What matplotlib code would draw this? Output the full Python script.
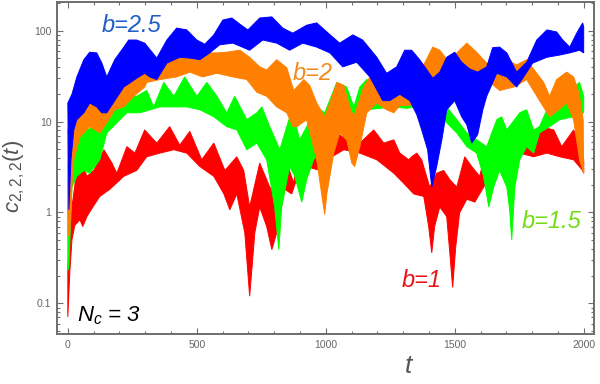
import numpy as np
import matplotlib
matplotlib.use("Agg")
import matplotlib.pyplot as plt
from matplotlib.ticker import LogLocator, MultipleLocator, NullFormatter

# envelopes (upper / lower) of the fast oscillation
t_blue_hi = [0, 16, 35, 62, 85, 112, 132, 151, 182, 217, 236, 267, 298, 345, 384, 422, 461, 500, 531, 566,
             601, 636, 667, 698, 744, 791, 833, 872, 926, 965, 1004, 1054, 1105, 1143, 1198, 1236, 1275, 1306,
             1333, 1364, 1384, 1415, 1442, 1469, 1500, 1527, 1558, 1589, 1624, 1647, 1674, 1702, 1740, 1779,
             1818, 1857, 1895, 1919, 1946, 1973, 1996, 2000]
blue_hi = [16, 20, 31, 48, 58, 57, 44, 31, 48, 66, 79, 79, 73, 50, 79, 107, 102, 79, 71, 90,
           131, 138, 118, 102, 138, 142, 107, 94, 115, 122, 97, 73, 90, 79, 51, 34, 40, 61,
           61, 48, 40, 30, 35, 51, 58, 45, 38, 35, 40, 65, 66, 57, 35, 45,
           79, 102, 97, 79, 66, 94, 122, 110]
t_blue_lo = [0, 4, 12, 23, 35, 62, 85, 112, 132, 151, 182, 217, 267, 298, 318, 345, 384, 434, 473, 512,
             550, 589, 640, 705, 756, 810, 860, 911, 965, 1016, 1066, 1120, 1171, 1221, 1248, 1287, 1326,
             1353, 1372, 1395, 1411, 1430, 1450, 1469, 1500, 1527, 1547, 1566, 1589, 1609, 1624, 1663,
             1702, 1740, 1764, 1802, 1857, 1907, 1946, 1984, 2000]
blue_lo = [16, 1.07, 3.8, 8.1, 10.5, 12.5, 16, 14.5, 12.5, 12.5, 17, 24, 30, 34, 31, 29, 44, 51, 50, 48,
           57, 70, 73, 61, 79, 73, 61, 73, 66, 57, 40, 45, 31, 17, 17, 20, 17,
           11.9, 8.1, 4.9, 1.9, 3.2, 6.3, 13.5, 17, 11.3, 9.2, 5.8, 7.2, 13.5, 19, 34,
           31, 24, 30, 44, 51, 54, 57, 61, 57]

t_orange_hi = [0, 23, 35, 58, 85, 124, 151, 182, 217, 256, 298, 345, 384, 422, 461, 500, 539, 578, 616, 667,
               705, 744, 771, 810, 849, 876, 915, 938, 965, 996, 1016, 1043, 1070, 1093, 1109, 1147, 1171,
               1198, 1225, 1264, 1302, 1333, 1376, 1415, 1442, 1481, 1508, 1547, 1585, 1624, 1663, 1702,
               1740, 1779, 1818, 1845, 1868, 1895, 1934, 1961, 1981, 1998, 2000]
orange_hi = [8.1, 13.5, 19, 24, 24, 21, 29, 40, 44, 57, 73, 44, 51, 58, 61, 51, 57, 57, 58, 61,
             51, 40, 37, 48, 39, 22, 29, 25, 16, 11.3, 16, 27, 25, 14.5, 11.3, 24, 31,
             27, 24, 27, 24, 27, 40, 66, 61, 44, 57, 73, 58, 44, 33, 48,
             42, 48, 34, 27, 19, 29, 35, 31, 21, 10.5, 2.7]
t_orange_lo = [0, 2, 8, 16, 23, 47, 85, 124, 151, 182, 217, 256, 298, 306, 357, 422, 473, 523, 578, 640,
               694, 733, 771, 810, 849, 872, 888, 926, 965, 984, 996, 1004, 1031, 1054, 1081, 1101, 1112,
               1132, 1159, 1198, 1236, 1264, 1287, 1326, 1376, 1442, 1508, 1570, 1624, 1674, 1729, 1779,
               1829, 1868, 1903, 1934, 1961, 1984, 2000]
orange_lo = [1.0, 0.55, 0.6, 2.0, 3.8, 6.8, 8.8, 7.5, 9.7, 13.5, 14.5, 19, 24, 27, 29, 31, 35, 31, 34, 31,
             29, 21, 19, 14.5, 12.5, 8.8, 8.8, 10.5, 3.8, 1.6, 0.95, 1.6, 4.5, 7.5, 6.3, 3.5, 3.2,
             5.3, 12.5, 16, 13.5, 12.5, 15, 15, 27, 34, 35, 37, 29, 22, 24, 29,
             17, 11.3, 13.5, 16, 10.5, 3.8, 2.7]

t_green_hi = [0, 23, 35, 54, 81, 105, 140, 171, 202, 229, 267, 306, 333, 372, 411, 453, 500, 539, 578, 616,
              647, 694, 733, 752, 783, 822, 857, 876, 899, 934, 965, 996, 1043, 1081, 1109, 1132, 1159,
              1209, 1264, 1314, 1353, 1391, 1430, 1469, 1508, 1547, 1585, 1624, 1663, 1682, 1702, 1752,
              1779, 1806, 1829, 1857, 1895, 1934, 1961, 1984, 2000]
green_hi = [3.5, 6.8, 8.1, 9.7, 8.1, 9.7, 12.5, 13.5, 14.5, 19, 19, 22, 14.5, 27, 19, 31, 19, 27, 19, 12.5,
            19, 10.5, 12.5, 14.5, 8.8, 4.9, 10.5, 11.3, 6.3, 9.7, 14.5, 12.5, 27, 24, 14.5, 24, 29,
            24, 21, 21, 25, 21, 19, 14.5, 10.5, 7.5, 6.3, 5.3, 10.5, 11.3, 8.1, 12.5,
            13.5, 8.1, 8.8, 13.5, 17, 16, 24, 27, 19]
t_green_lo = [0, 4, 16, 35, 62, 85, 124, 151, 190, 229, 279, 357, 411, 461, 512, 566, 616, 655, 694, 733,
              771, 802, 818, 829, 860, 880, 907, 926, 953, 992, 1016, 1043, 1081, 1109, 1159, 1209, 1264,
              1314, 1353, 1403, 1457, 1508, 1547, 1585, 1612, 1632, 1651, 1674, 1702, 1713, 1721, 1733,
              1752, 1779, 1806, 1829, 1868, 1907, 1961, 2000]
green_lo = [0.23, 0.25, 1.9, 2.5, 2.9, 2.7, 3.8, 7.5, 9.7, 12.5, 12.5, 14.5, 14.5, 14.5, 13.5, 11.3, 8.8, 8.1, 4.9, 5.8,
            3.8, 1.15, 0.39, 1.15, 3.2, 2.5, 1.3, 2.3, 3.8, 5.3, 10, 12.5, 11.3, 10.5, 13.5, 14, 14.5,
            14, 14.5, 13.5, 10.5, 7.5, 5.3, 4.5, 2.5, 1.15, 1.9, 2.9, 1.9, 1.07, 0.5, 1.9,
            3.8, 5.3, 4.5, 7.5, 8.8, 10.5, 11.3, 12.5]

t_red_hi = [0, 16, 35, 54, 74, 101, 140, 171, 190, 229, 260, 298, 345, 395, 434, 473, 519, 566, 609, 655,
            682, 705, 744, 783, 810, 849, 876, 899, 926, 953, 977, 1004, 1043, 1081, 1132, 1186, 1225,
            1264, 1287, 1322, 1333, 1353, 1372, 1403, 1430, 1457, 1481, 1508, 1539, 1566, 1597, 1624,
            1651, 1674, 1702, 1729, 1752, 1791, 1829, 1884, 1915, 1961, 1984, 2000]
red_hi = [0.25, 1.15, 2.9, 3.5, 2.5, 2.9, 4.9, 3.5, 2.7, 5.3, 4.5, 8.1, 5.8, 8.8, 5.5, 7.8, 3.8, 5.8, 2.9, 4.1,
          2.9, 1.15, 3.5, 1.9, 1.5, 3.5, 2.1, 6.3, 5.8, 6.8, 4.5, 5.3, 7.5, 6.3, 5.8, 8.1, 5.8,
          6.3, 4.5, 3.8, 4.1, 4.5, 3.8, 1.9, 2.7, 2.9, 2.3, 1.9, 4.1, 3.2, 2.5, 5.3,
          3.2, 3.5, 8.1, 7.5, 5.3, 6.8, 8.8, 8.1, 5.3, 8.1, 5.3, 3.8]
t_red_lo = [0, 8, 16, 27, 47, 58, 74, 97, 124, 163, 217, 267, 306, 357, 411, 461, 512, 566, 605, 628,
            655, 686, 705, 725, 744, 771, 791, 810, 841, 868, 895, 926, 977, 1004, 1070, 1132, 1198,
            1264, 1302, 1341, 1380, 1399, 1411, 1422, 1442, 1469, 1481, 1492, 1504, 1519, 1547, 1578,
            1612, 1651, 1702, 1752, 1806, 1857, 1907, 1961, 1996, 2000]
red_lo = [0.071, 0.23, 0.5, 0.72, 0.83, 0.7, 0.9, 1.15, 1.5, 1.8, 2.5, 2.9, 4.1, 4.5, 4.9, 4.5, 3.2, 2.5, 1.6, 1.07,
          1.6, 0.6, 0.12, 0.6, 1.15, 0.7, 0.39, 0.6, 1.8, 1.6, 2.7, 3.2, 2.9, 3.8, 4.9, 4.5, 3.8,
          2.7, 2.1, 1.6, 1.5, 0.7, 0.36, 0.7, 1.15, 0.9, 0.36, 0.15, 0.42, 0.99, 1.4, 1.3,
          1.9, 2.7, 3.8, 4.5, 4.1, 4.5, 4.1, 3.8, 2.9, 2.7]

plt.rcParams["font.family"] = ["Liberation Sans", "DejaVu Sans"]
plt.rcParams["mathtext.fontset"] = "custom"
plt.rcParams["mathtext.rm"] = "Liberation Sans"
plt.rcParams["mathtext.it"] = "Liberation Sans:italic"

GRIS = "#6e6e6e"

fig = plt.figure(figsize=(6, 3.84), dpi=100)
ax = fig.add_axes([57 / 600, 50 / 384, 537 / 600, 332 / 384])

# drawing order as in the original: red, green, orange, blue on top
series = [
    (t_red_hi, red_hi, t_red_lo, red_lo, "#ff0000"),
    (t_green_hi, green_hi, t_green_lo, green_lo, "#00ff00"),
    (t_orange_hi, orange_hi, t_orange_lo, orange_lo, "#ff8000"),
    (t_blue_hi, blue_hi, t_blue_lo, blue_lo, "#0000ff"),
]
for z, (th, hi, tl, lo, cor) in enumerate(series):
    xs = np.concatenate([th, tl[::-1]])
    ys = np.concatenate([hi, lo[::-1]])
    ax.fill(xs, ys, color=cor, lw=0.7, zorder=2 + z)

ax.set_yscale("log")
ax.set_xlim(-42, 2040)
ax.set_ylim(0.046, 207)
ax.set_xticks([0, 500, 1000, 1500, 2000])
ax.xaxis.set_minor_locator(MultipleLocator(100))
ax.set_yticks([0.1, 1, 10, 100], labels=["0.1", "1", "10", "100"])
ax.yaxis.set_minor_locator(LogLocator(base=10, subs=np.arange(2, 10)))
ax.yaxis.set_minor_formatter(NullFormatter())

ax.tick_params(which="both", direction="in", top=True, right=True,
               color=GRIS, labelcolor="#666666", labelsize=7.5, width=0.8)
ax.tick_params(which="major", length=4, pad=4)
ax.tick_params(which="minor", length=2)
for sp in ax.spines.values():
    sp.set_color(GRIS)
    sp.set_linewidth(1.4)

ax.set_xlabel("$t$", fontsize=19, color="#555555")
ax.xaxis.set_label_coords(0.655, -0.06)
ax.set_ylabel(r"$c_{2,2,2}(t)$", fontsize=16, color="#555555")
ax.yaxis.set_label_coords(-0.055, 0.476)

kw = dict(fontsize=17, style="italic", ha="center", va="baseline", zorder=10)
ax.text(248, 97, "b=2.5", color="#1f5fc8", **kw)
ax.text(950, 29, "b=2", color="#f08c1e", **kw)
ax.text(1876, 0.68, "b=1.5", color="#72dc14", **kw)
ax.text(1372, 0.15, "b=1", color="#e61414", **kw)
ax.text(35, 0.063, "$N_c$ = 3", color="black", fontsize=16, style="italic",
        ha="left", va="baseline", zorder=10)

fig.savefig("out.png", dpi=100, facecolor="white")
plt.close(fig)
